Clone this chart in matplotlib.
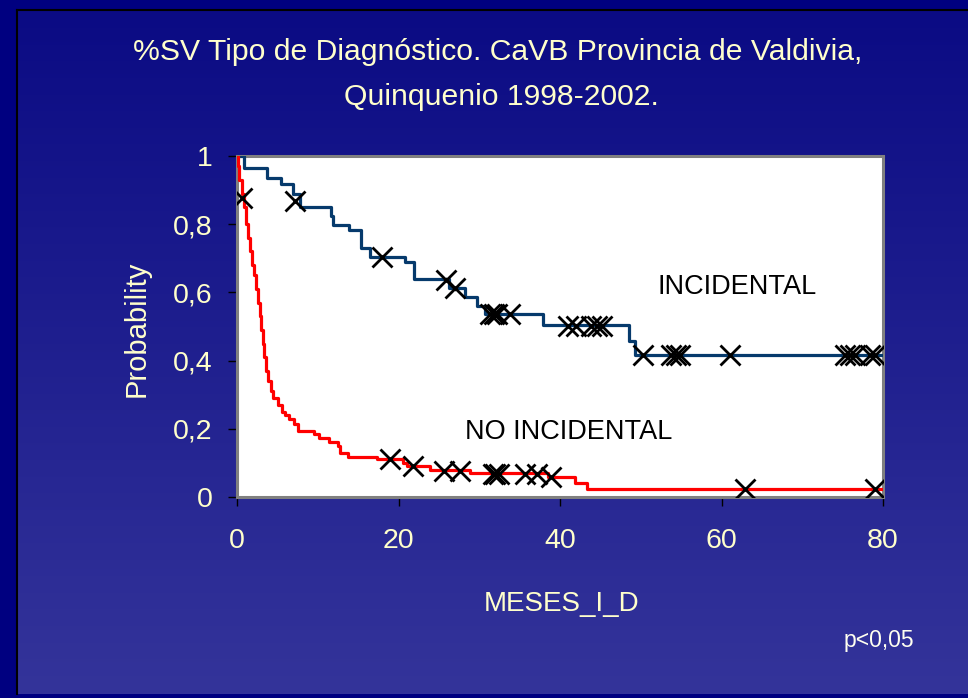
import numpy as np
import matplotlib
matplotlib.use("Agg")
import matplotlib.pyplot as plt
from matplotlib.colors import LinearSegmentedColormap

plt.rcParams['font.family'] = ['Liberation Sans', 'DejaVu Sans']

# ---- data ----
title_line1 = "%SV Tipo de Diagnóstico. CaVB Provincia de Valdivia,"
title_line2 = "Quinquenio 1998-2002."
x_label = "MESES_I_D"
y_label = "Probability"
x_ticks = [0, 20, 40, 60, 80]
y_ticks = [0, 0.2, 0.4, 0.6, 0.8, 1.0]
y_tick_labels = ["0", "0,2", "0,4", "0,6", "0,8", "1"]

# INCIDENTAL (blue) step curve: times and survival after each step
inc_t = [0, 0.83, 3.7, 5.5, 6.9, 7.8, 11.6, 11.85, 13.9, 15.3, 15.4, 16.5, 20.8,
         21.9, 26.2, 28.2, 29.7, 30.7, 37.9, 48.6, 49.3, 80]
inc_p = [1.0, 0.964, 0.935, 0.918, 0.89, 0.85, 0.824, 0.798, 0.783, 0.756, 0.729,
         0.705, 0.69, 0.638, 0.612, 0.587, 0.561, 0.536, 0.504, 0.458, 0.416, 0.416]
inc_cens_t = [7.2, 17.9, 25.9, 27.0, 31.3, 31.8, 32.2, 33.8, 41.0, 42.0, 43.9,
              44.6, 45.2, 50.3, 53.8, 54.4, 54.9, 61.0, 75.3, 75.9, 76.5, 78.4, 79.0]
inc_cens_p = [0.868, 0.705, 0.636, 0.612, 0.536, 0.536, 0.536, 0.536, 0.502, 0.502,
              0.502, 0.502, 0.502, 0.416, 0.416, 0.416, 0.416, 0.416, 0.416, 0.416,
              0.416, 0.416, 0.416]

# NO INCIDENTAL (red) step curve
noinc_t = [0, 0.1, 0.3, 0.6, 0.9, 1.1, 1.35, 1.6, 1.9, 2.1, 2.3, 2.6, 2.8, 3.0, 3.2,
           3.4, 3.6, 3.9, 4.2, 4.5, 5.1, 5.6, 6.0, 6.4, 7.0, 7.6, 9.5, 10.1, 11.4,
           12.5, 12.8, 13.8, 17.3, 20.6, 21.0, 23.9, 28.9, 38.5, 41.9, 43.3, 80]
noinc_p = [1.0, 0.97, 0.93, 0.89, 0.85, 0.80, 0.76, 0.72, 0.68, 0.65, 0.61, 0.57,
           0.53, 0.49, 0.45, 0.41, 0.37, 0.34, 0.31, 0.29, 0.27, 0.25, 0.24, 0.23,
           0.215, 0.195, 0.185, 0.172, 0.16, 0.15, 0.13, 0.118, 0.11, 0.10, 0.09,
           0.08, 0.07, 0.06, 0.042, 0.023, 0.023]
noinc_cens_t = [0.6, 18.9, 21.8, 25.6, 27.6, 31.7, 32.0, 32.4, 35.7, 37.1, 38.9, 62.9, 79.0]
noinc_cens_p = [0.877, 0.11, 0.092, 0.075, 0.075, 0.068, 0.068, 0.068, 0.068, 0.068,
                0.06, 0.023, 0.023]

label_inc = "INCIDENTAL"
label_noinc = "NO INCIDENTAL"
p_text = "p<0,05"

# ---- figure ----
W, H = 968, 698
fig = plt.figure(figsize=(W / 100, H / 100), dpi=100)
fig.patch.set_facecolor('#000080')

# gradient background panel
bg = fig.add_axes([17 / W, 4 / H, (W - 17) / W, (H - 10 - 4) / H], zorder=-5)
cmap = LinearSegmentedColormap.from_list('bg', ['#0b0b84', '#34349a'])
grad = np.linspace(0, 1, 256).reshape(-1, 1)
bg.imshow(grad, aspect='auto', cmap=cmap, extent=[0, 1, 0, 1], origin='upper')
bg.set_xlim(0, 1)
bg.set_ylim(0, 1)
bg.set_xticks([])
bg.set_yticks([])
for s in ['right', 'bottom']:
    bg.spines[s].set_visible(False)
for s in ['left', 'top']:
    bg.spines[s].set_color('black')
    bg.spines[s].set_linewidth(1.5)

cream = '#ffffcc'

ax = fig.add_axes([237 / W, 1 - 497 / H, (883 - 237) / W, (497 - 156) / H])
ax.set_facecolor('white')
ax.step(inc_t, inc_p, where='post', color='#063a6c', lw=2.3, zorder=3)
ax.step(noinc_t, noinc_p, where='post', color='#ff0000', lw=2.3, zorder=3)
ax.plot(inc_cens_t, inc_cens_p, 'x', color='black', ms=15, mew=2.0, zorder=4)
ax.plot(noinc_cens_t, noinc_cens_p, 'x', color='black', ms=15, mew=2.0, zorder=4)

ax.set_xlim(0, 80)
ax.set_ylim(0, 1)
ax.set_xticks(x_ticks)
ax.set_xticklabels([str(v) for v in x_ticks])
ax.set_yticks(y_ticks)
ax.set_yticklabels(y_tick_labels)
ax.tick_params(axis='both', direction='out', length=6.5, width=1, color='black',
               labelcolor=cream, labelsize=20.5)
ax.tick_params(axis='x', pad=16)
ax.tick_params(axis='y', pad=11)
for s in ax.spines.values():
    s.set_color('#808080')
    s.set_linewidth(2.2)
for lab in ax.get_xticklabels() + ax.get_yticklabels():
    lab.set_clip_on(False)

ax.text(52.1, 0.616, label_inc, fontsize=19.5, color='black', va='center', ha='left')
ax.text(28.2, 0.192, label_noinc, fontsize=19.5, color='black', va='center', ha='left')

fig.text(498 / W, 1 - 52 / H, title_line1, fontsize=21.7, color=cream, ha='center', va='center')
fig.text(501 / W, 1 - 97 / H, title_line2, fontsize=21.7, color=cream, ha='center', va='center')
fig.text(137 / W, 1 - 329 / H, y_label, fontsize=21, color=cream, ha='center', va='center',
         rotation=90)
fig.text(562 / W, 1 - 604 / H, x_label, fontsize=20, color=cream, ha='center', va='center')
fig.text(879 / W, 1 - 641 / H, p_text, fontsize=16.5, color='#fffff0', ha='center', va='center')

fig.savefig('out.png', dpi=100, facecolor=fig.get_facecolor())
